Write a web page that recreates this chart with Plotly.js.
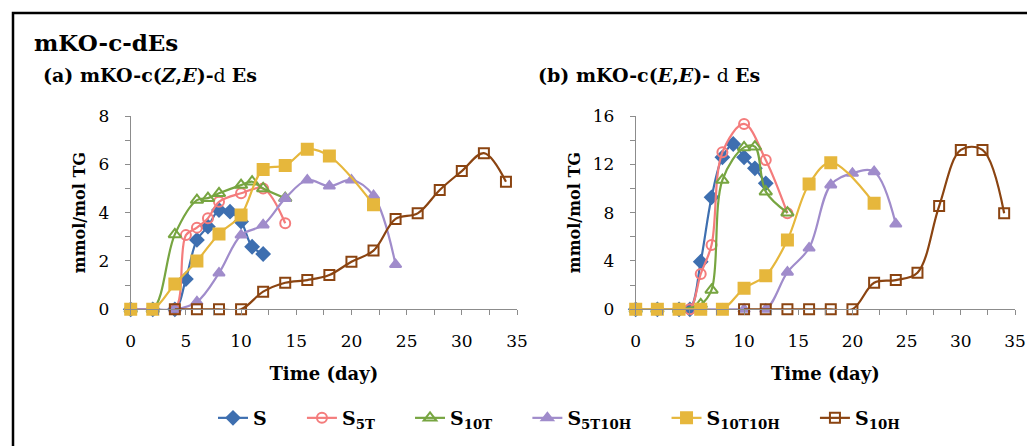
<!DOCTYPE html>
<html><head><meta charset="utf-8">
<script src="https://cdn.plot.ly/plotly-3.0.1.min.js"></script>
<style>html,body{margin:0;padding:0;background:#fff}#chart{width:1027px;height:446px}</style>
</head><body><div id="chart"></div>
<script>
// ---------- Legend names ----------
const seriesNames = ['S', 'S<sub>5T</sub>', 'S<sub>10T</sub>', 'S<sub>5T10H</sub>', 'S<sub>10T10H</sub>', 'S<sub>10H</sub>'];

// ---------- Panel (a): mKO-c(Z,E)-d Es ----------
const a_S_days = [0, 2, 4, 5, 6, 7, 8, 9, 10, 11, 12];
const a_S_vals = [0, 0, 0, 1.25, 2.87, 3.42, 4.11, 4.04, 3.63, 2.59, 2.29];
const a_S5T_days = [0, 2, 4, 5, 6, 7, 8, 10, 12, 14];
const a_S5T_vals = [0, 0, 0, 3.07, 3.38, 3.77, 4.45, 4.8, 5.0, 3.56];
const a_S10T_days = [0, 2, 4, 6, 7, 8, 10, 11, 12, 14];
const a_S10T_vals = [0, 0, 3.1, 4.52, 4.6, 4.8, 5.14, 5.28, 5.0, 4.6];
const a_S5T10H_days = [0, 2, 4, 6, 8, 10, 12, 14, 16, 18, 20, 22, 24];
const a_S5T10H_vals = [0, 0, 0, 0.31, 1.5, 3.07, 3.49, 4.59, 5.35, 5.1, 5.35, 4.7, 1.85];
const a_S10T10H_days = [0, 2, 4, 6, 8, 10, 12, 14, 16, 18, 22];
const a_S10T10H_vals = [0, 0, 1.05, 2.0, 3.12, 3.9, 5.79, 5.95, 6.62, 6.34, 4.33];
const a_S10H_days = [4, 6, 8, 10, 12, 14, 16, 18, 20, 22, 24, 26, 28, 30, 32, 34];
const a_S10H_vals = [0, 0, 0, 0, 0.73, 1.1, 1.21, 1.42, 1.97, 2.43, 3.74, 3.97, 4.94, 5.72, 6.46, 5.28];

// ---------- Panel (b): mKO-c(E,E)-d Es ----------
const b_S_days = [0, 2, 4, 5, 6, 7, 8, 9, 10, 11, 12];
const b_S_vals = [0, 0, 0, 0, 3.94, 9.27, 12.58, 13.68, 12.58, 11.67, 10.43];
const b_S5T_days = [0, 2, 4, 5, 6, 7, 8, 10, 12, 14];
const b_S5T_vals = [0, 0, 0, 0, 2.92, 5.32, 13.0, 15.34, 12.36, 7.95];
const b_S10T_days = [0, 2, 4, 6, 7, 8, 10, 11, 12, 14];
const b_S10T_vals = [0, 0, 0, 0.4, 1.6, 10.7, 13.4, 13.46, 9.74, 8.0];
const b_S5T10H_days = [0, 2, 4, 6, 8, 10, 12, 14, 16, 18, 20, 22, 24];
const b_S5T10H_vals = [0, 0, 0, 0, 0, 0, 0, 3.07, 5.07, 10.29, 11.26, 11.39, 7.06];
const b_S10T10H_days = [0, 2, 4, 6, 8, 10, 12, 14, 16, 18, 22];
const b_S10T10H_vals = [0, 0, 0, 0, 0, 1.74, 2.78, 5.74, 10.37, 12.14, 8.77];
const b_S10H_days = [10, 12, 14, 16, 18, 20, 22, 24, 26, 28, 30, 32, 34];
const b_S10H_vals = [0, 0, 0, 0, 0, 0, 2.2, 2.42, 3.03, 8.55, 13.19, 13.19, 7.95];

// x / y axis tick values
const xTicks = [0, 5, 10, 15, 20, 25, 30, 35];
const yTicksA = [0, 2, 4, 6, 8];
const yTicksB = [0, 4, 8, 12, 16];

const colors = ['#3E6FB0', '#F47C7C', '#77A541', '#A08CCB', '#E6B73C', '#8B4411'];
const symbols = ['diamond', 'circle-open', 'triangle-up-open', 'triangle-up', 'square', 'square-open'];
const sizes = [10, 10, 11, 10, 11, 10];

const dataA = [[a_S_days, a_S_vals], [a_S5T_days, a_S5T_vals], [a_S10T_days, a_S10T_vals],
  [a_S5T10H_days, a_S5T10H_vals], [a_S10T10H_days, a_S10T10H_vals], [a_S10H_days, a_S10H_vals]];
const dataB = [[b_S_days, b_S_vals], [b_S5T_days, b_S5T_vals], [b_S10T_days, b_S10T_vals],
  [b_S5T10H_days, b_S5T10H_vals], [b_S10T10H_days, b_S10T10H_vals], [b_S10H_days, b_S10H_vals]];

const W = 1027, H = 446;
const px = v => v / W, py = v => 1 - v / H;
const SERIF = '"DejaVu Serif", "Liberation Serif", serif';
const PAD = '&nbsp;&nbsp;&nbsp;&nbsp;&nbsp;';

const traces = [];
function addTraces(set, xa, ya, legend) {
  set.forEach((d, i) => {
    traces.push({
      type: 'scatter', mode: 'lines+markers', x: d[0], y: d[1], xaxis: xa, yaxis: ya,
      name: '<b>' + seriesNames[i] + '</b>' + PAD, showlegend: legend, cliponaxis: false,
      line: {color: colors[i], width: 2.2, shape: 'spline', smoothing: 1},
      marker: {symbol: symbols[i], size: sizes[i], color: colors[i], line: {color: colors[i], width: 2}}
    });
  });
}
addTraces(dataA, 'x', 'y', true);
addTraces(dataB, 'x2', 'y2', false);

const axisCommon = {
  showgrid: false, zeroline: false, showline: true, linecolor: '#8c8c8c', linewidth: 1,
  ticks: 'outside', ticklen: 5, tickcolor: '#8c8c8c', tickfont: {family: SERIF, size: 17, color: '#000'},
  fixedrange: true
};
function xAxis(dom, anchor) {
  return Object.assign({}, axisCommon, {
    domain: dom, anchor: anchor, range: [0, 35], tickvals: xTicks, ticktext: xTicks.map(String),
    ticklabelstandoff: 11,
    minor: {dtick: 2.5, tick0: 0, ticks: 'outside', ticklen: 5, tickcolor: '#8c8c8c', showgrid: false},
    title: {text: '<b>Time (day)</b>', font: {family: SERIF, size: 18, color: '#000'}, standoff: 17}
  });
}
function yAxis(dom, anchor, max, tv, minorStep) {
  return Object.assign({}, axisCommon, {
    domain: dom, anchor: anchor, range: [0, max], tickvals: tv, ticktext: tv.map(String),
    ticklabelstandoff: 12,
    minor: {dtick: minorStep, tick0: 0, ticks: 'outside', ticklen: 5, tickcolor: '#8c8c8c', showgrid: false},
    title: {text: '<b>mmol/mol TG</b>', font: {family: SERIF, size: 16, color: '#000'}, standoff: 8}
  });
}

const yDom = [py(309.3), py(116)];
const layout = {
  width: W, height: H, margin: {l: 0, r: 0, t: 0, b: 0},
  paper_bgcolor: '#fff', plot_bgcolor: '#fff', font: {family: SERIF, color: '#000'},
  xaxis: xAxis([px(130.7), px(517)], 'y'),
  yaxis: yAxis(yDom, 'x', 8, yTicksA, 1),
  xaxis2: xAxis([px(635.7), px(1015)], 'y2'),
  yaxis2: yAxis(yDom, 'x2', 16, yTicksB, 2),
  showlegend: true,
  legend: {orientation: 'h', x: px(213), xanchor: 'left', y: py(418), yanchor: 'middle',
    font: {family: SERIF, size: 19, color: '#000'}, itemwidth: 30, bgcolor: 'rgba(0,0,0,0)'},
  shapes: [{type: 'rect', xref: 'paper', yref: 'paper', x0: px(13), x1: 1.05, y0: -0.05, y1: py(13),
    line: {color: '#000', width: 2.5}, fillcolor: 'rgba(0,0,0,0)'}],
  annotations: [
    {xref: 'paper', yref: 'paper', x: px(32), y: py(43), xanchor: 'left', yanchor: 'middle', showarrow: false,
      text: '<b>mKO-c-dEs</b>', font: {family: SERIF, size: 23, color: '#000'}},
    {xref: 'paper', yref: 'paper', x: px(41), y: py(75), xanchor: 'left', yanchor: 'middle', showarrow: false,
      text: '<b>(a) mKO-c(<i>Z</i>,<i>E</i>)-</b>d <b>Es</b>', font: {family: SERIF, size: 19, color: '#000'}},
    {xref: 'paper', yref: 'paper', x: px(536), y: py(75), xanchor: 'left', yanchor: 'middle', showarrow: false,
      text: '<b>(b) mKO-c(<i>E</i>,<i>E</i>)- </b>d <b>Es</b>', font: {family: SERIF, size: 19, color: '#000'}}
  ]
};
Plotly.newPlot('chart', traces, layout, {displayModeBar: false, staticPlot: true});
</script></body></html>
